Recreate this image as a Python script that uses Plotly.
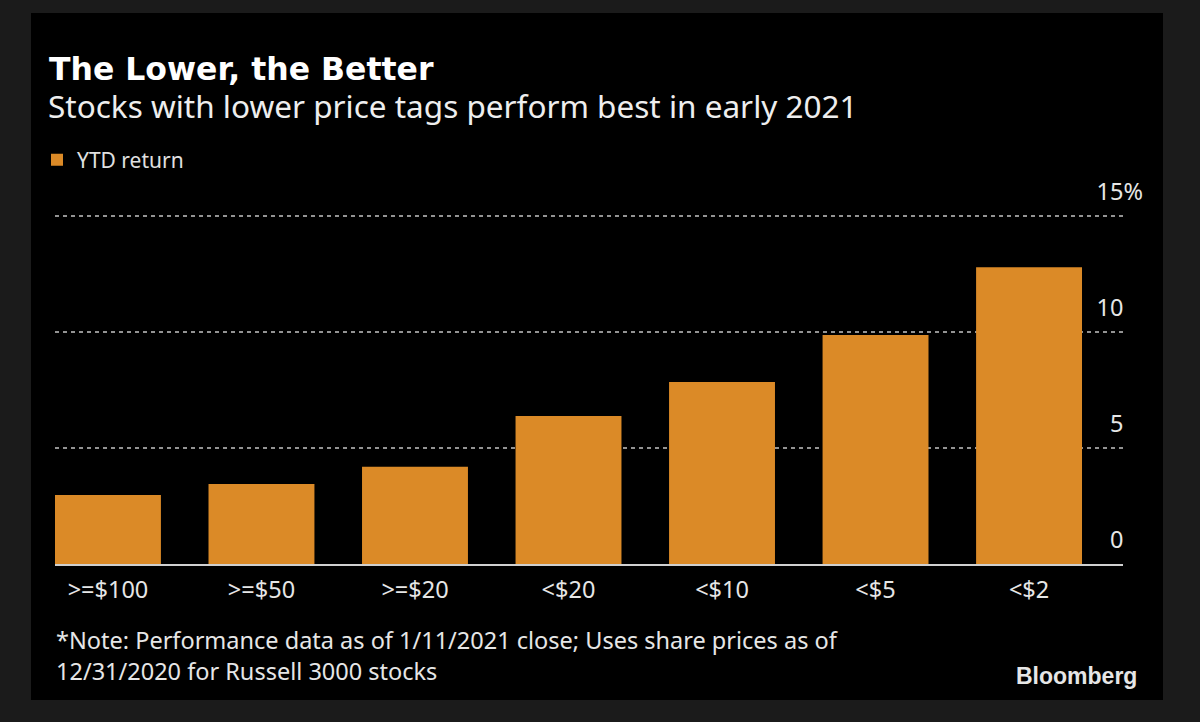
import plotly.graph_objects as go

categories = [">=$100", ">=$50", ">=$20", "<$20", "<$10", "<$5", "<$2"]
ytd_return = [2.97, 3.45, 4.19, 6.38, 7.84, 9.87, 12.79]
y_tickvals = [0, 5, 10, 15]
y_ticktext = ["0", "5", "10", "15%"]

W, H = 1200, 722
L, R_EDGE, T, B_EDGE = 55, 1123, 200, 564  # plot area in px

def px(xp):
    return (xp - L) / (R_EDGE - L)

def py(yp):
    return (B_EDGE - yp) / (B_EDGE - T)

FONT = "Noto Sans"
BAR = "#DB8A27"

xs = list(range(len(categories)))
bar_w = 0.69
ymax = (B_EDGE - T) / 23.2

fig = go.Figure()
fig.add_trace(go.Bar(
    x=xs, y=ytd_return, name="YTD return",
    marker=dict(color=BAR, line=dict(width=0)),
    width=bar_w, hoverinfo="skip",
))

hidden = "<span style='color:rgba(0,0,0,0)'>%</span>"
ticktext = [t if t.endswith("%") else t + hidden for t in y_ticktext]

fig.update_layout(
    width=W, height=H,
    paper_bgcolor="#1b1b1b", plot_bgcolor="#000000",
    margin=dict(l=L, r=W - R_EDGE, t=T, b=H - B_EDGE, pad=0),
    font=dict(family=FONT, color="#e6e6e6", size=22),
    showlegend=True,
    legend=dict(
        orientation="h", x=px(37), y=py(160), xanchor="left", yanchor="middle",
        font=dict(size=21, color="#e0e0e0"), bgcolor="rgba(0,0,0,0)",
        itemwidth=30,
    ),
    xaxis=dict(
        range=[-bar_w / 2, len(categories) - 1 + bar_w / 2 + 0.267],
        tickvals=xs, ticktext=categories, showgrid=False, zeroline=False,
        showline=True, linecolor="#d0d0d0", linewidth=2,
        ticks="", ticklen=0, ticklabelstandoff=4,
        tickfont=dict(size=23.5, color="#e6e6e6"),
        fixedrange=True,
    ),
    yaxis=dict(
        range=[0, ymax], side="right", tickvals=y_tickvals, ticktext=ticktext,
        showgrid=True, gridcolor="#939393", gridwidth=1.5, griddash="4px,4px",
        zeroline=False, showline=False, ticks="",
        ticklabelposition="inside top", ticklabeloverflow="allow",
        ticklabelstandoff=-23, ticklabelshift=-8,
        tickfont=dict(size=23.5, color="#e6e6e6"),
        fixedrange=True,
    ),
    shapes=[dict(
        type="rect", xref="paper", yref="paper", layer="below",
        x0=px(31), x1=px(1163), y0=py(700), y1=py(13),
        fillcolor="#000000", line=dict(width=0),
    )],
    annotations=[
        dict(text="<b>The Lower, the Better</b>", xref="paper", yref="paper",
             x=px(47), y=py(69), xanchor="left", yanchor="middle", showarrow=False,
             font=dict(size=31.5, color="#ffffff", family="DejaVu Sans")),
        dict(text="Stocks with lower price tags perform best in early 2021",
             xref="paper", yref="paper", x=px(46), y=py(105), xanchor="left",
             yanchor="middle", showarrow=False,
             font=dict(size=31.5, color="#eeeeee", family=FONT)),
        dict(text="*Note: Performance data as of 1/11/2021 close; Uses share prices as of<br>"
                  "12/31/2020 for Russell 3000 stocks",
             xref="paper", yref="paper", x=px(54), y=py(655), xanchor="left",
             yanchor="middle", align="left", showarrow=False,
             font=dict(size=23.5, color="#e6e6e6", family=FONT)),
        dict(text="<b>Bloomberg</b>", xref="paper", yref="paper", x=px(1139), y=py(676),
             xanchor="right", yanchor="middle", showarrow=False,
             font=dict(size=23, color="#e6e6e6", family="Liberation Sans")),
    ],
)

fig.write_html(
    "out.html",
    config={"displayModeBar": False},
    post_script="document.body.style.margin='0';document.body.style.background='#1b1b1b';",
)
